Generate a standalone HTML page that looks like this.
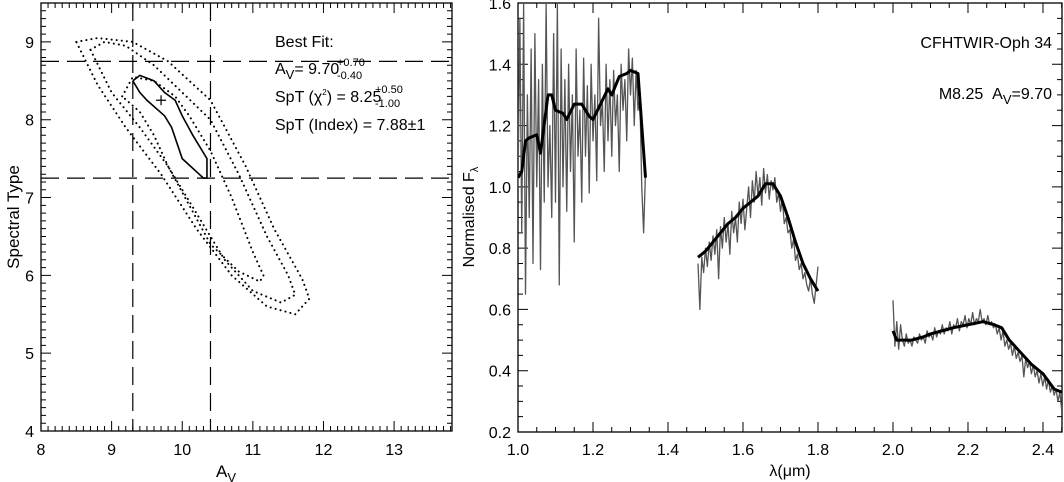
<!DOCTYPE html>
<html><head><meta charset="utf-8"><style>
html,body{margin:0;padding:0;background:#fff}
svg{display:block;font-family:"Liberation Sans",sans-serif}
</style></head><body>
<svg id="fig" width="1064" height="482" viewBox="0 0 1064 482">
<g id="left"></g>
<g id="right"></g>
</svg>
<script>
// ---- Left panel data ----
const avTicks=[8,9,10,11,12,13];
const sptTicks=[4,5,6,7,8,9];
const avBounds=[9.3,10.4];
const sptBounds=[7.25,8.75];
const bestFit=[9.7,8.25];
const solidAv=[9.3,9.4,9.6,9.75,9.9,10.0,10.15,10.35,10.35,10.3,10.0,9.85,9.75,9.5,9.4,9.3];
const solidSpt=[8.5,8.57,8.5,8.35,8.25,8.05,7.8,7.5,7.25,7.25,7.5,7.9,8.05,8.25,8.35,8.5];
const dot1Av=[9.15,9.3,9.6,9.9,10.1,10.4,10.7,11.0,11.15,11.1,10.8,10.4,10.1,9.8,9.6,9.4,9.15];
const dot1Spt=[8.3,8.55,8.5,8.3,8.05,7.6,7.0,6.3,6.0,5.92,6.05,6.4,6.9,7.4,7.8,8.1,8.3];
const dot2Av=[8.7,8.9,9.2,9.6,10.0,10.4,10.8,11.2,11.5,11.6,11.4,11.0,10.6,10.2,9.8,9.4,9.0,8.7];
const dot2Spt=[8.9,9.0,8.95,8.7,8.35,8.0,7.3,6.5,6.0,5.75,5.65,5.8,6.2,6.8,7.4,7.9,8.35,8.9];
const dot3Av=[8.5,8.8,9.3,9.8,10.4,10.9,11.3,11.7,11.8,11.6,11.2,10.7,10.2,9.7,9.2,8.8,8.5];
const dot3Spt=[9.0,9.05,9.0,8.75,8.25,7.4,6.6,5.95,5.7,5.5,5.6,6.0,6.6,7.3,7.9,8.45,9.0];
// ---- Right panel data ----
const lamTicks=[1.0,1.2,1.4,1.6,1.8,2.0,2.2,2.4];
const fluxTicks=[0.2,0.4,0.6,0.8,1.0,1.2,1.4,1.6];
const jRange=[1.0,1.34];
const jFlux=[1.0,1.55,0.85,1.6,0.65,1.3,0.9,1.45,0.75,1.5,1.0,1.35,0.73,1.4,0.95,1.6,1.0,1.2,0.9,1.5,0.95,1.6,0.68,1.45,1.0,1.35,0.92,1.4,1.05,1.3,0.82,1.45,1.1,1.25,0.95,1.42,1.1,1.33,0.98,1.4,1.15,1.3,1.02,1.55,1.2,1.28,1.05,1.4,1.15,1.35,1.1,1.38,1.2,1.3,1.05,1.4,1.25,1.35,1.15,1.45,1.3,1.42,1.2,1.38,1.25,1.3,1.0,0.85,1.05];
const hRange=[1.48,1.80];
const hFlux=[0.75,0.6,0.77,0.72,0.8,0.74,0.82,0.76,0.84,0.78,0.86,0.7,0.87,0.8,0.9,0.82,0.88,0.78,0.92,0.85,0.9,0.82,0.95,0.88,0.96,0.86,0.93,1.0,0.9,1.02,0.95,1.05,0.97,1.03,0.94,1.06,0.98,1.04,0.96,1.02,0.99,1.03,0.95,0.98,0.92,0.96,0.88,0.9,0.85,0.86,0.8,0.83,0.76,0.78,0.73,0.75,0.7,0.72,0.68,0.66,0.7,0.65,0.62,0.68,0.74];
const kRange=[2.0,2.45];
const kFlux=[0.63,0.48,0.56,0.47,0.55,0.5,0.48,0.52,0.49,0.5,0.48,0.51,0.5,0.49,0.52,0.5,0.51,0.49,0.53,0.51,0.52,0.5,0.54,0.51,0.53,0.52,0.55,0.52,0.54,0.53,0.56,0.52,0.55,0.54,0.57,0.53,0.56,0.55,0.58,0.54,0.57,0.55,0.59,0.55,0.57,0.56,0.6,0.56,0.57,0.55,0.58,0.55,0.56,0.54,0.55,0.52,0.54,0.5,0.53,0.48,0.5,0.47,0.49,0.45,0.48,0.44,0.46,0.43,0.45,0.38,0.44,0.41,0.43,0.39,0.42,0.38,0.4,0.36,0.39,0.35,0.38,0.34,0.37,0.33,0.35,0.32,0.34,0.3,0.33,0.27];
const modelLam=[[1.0,1.01,1.02,1.03,1.05,1.06,1.08,1.09,1.1,1.12,1.13,1.15,1.17,1.19,1.2,1.22,1.24,1.25,1.27,1.29,1.3,1.32,1.33,1.34],
 [1.48,1.5,1.52,1.54,1.56,1.58,1.6,1.62,1.64,1.66,1.68,1.7,1.72,1.74,1.76,1.78,1.8],
 [2.0,2.01,2.03,2.05,2.08,2.1,2.13,2.16,2.2,2.24,2.27,2.29,2.31,2.34,2.37,2.4,2.43,2.45]];
const modelFlux=[[1.03,1.05,1.15,1.16,1.17,1.11,1.3,1.3,1.25,1.24,1.22,1.27,1.27,1.23,1.22,1.27,1.32,1.3,1.36,1.37,1.38,1.37,1.2,1.03],
 [0.77,0.79,0.82,0.85,0.88,0.9,0.93,0.95,0.97,1.01,1.01,0.97,0.9,0.82,0.75,0.7,0.66],
 [0.53,0.5,0.5,0.5,0.51,0.52,0.53,0.54,0.55,0.56,0.55,0.54,0.5,0.46,0.42,0.39,0.34,0.33]];

const NS="http://www.w3.org/2000/svg";
function mk(parent,tag,attrs,text){const e=document.createElementNS(NS,tag);for(const k in attrs)e.setAttribute(k,attrs[k]);if(text!==undefined)e.textContent=text;parent.appendChild(e);return e;}

const L={x0:41,x1:452,y0:431,y1:3,xmin:8,xmax:13.82,ymin:4,ymax:9.5};
const lx=v=>L.x0+(v-L.xmin)/(L.xmax-L.xmin)*(L.x1-L.x0);
const ly=v=>L.y0-(v-L.ymin)/(L.ymax-L.ymin)*(L.y0-L.y1);
const R={x0:518,x1:1062,y0:432,y1:3,xmin:1.0,xmax:2.4507,ymin:0.2,ymax:1.6};
const rx=v=>R.x0+(v-R.xmin)/(R.xmax-R.xmin)*(R.x1-R.x0);
const ry=v=>R.y0-(v-R.ymin)/(R.ymax-R.ymin)*(R.y0-R.y1);

const defs=mk(document.getElementById('fig'),'defs',{});
const cp=mk(defs,'clipPath',{id:'lclip'});mk(cp,'rect',{x:L.x0,y:L.y1,width:L.x1-L.x0,height:L.y0-L.y1});
const cp2=mk(defs,'clipPath',{id:'rclip'});mk(cp2,'rect',{x:R.x0,y:R.y1,width:R.x1-R.x0,height:R.y0-R.y1});

function axes(g,S,fx,fy,xmin,xstep,ymin,ystep,xdec,ydec){
  const fr=mk(g,'rect',{x:S.x0,y:S.y1,width:S.x1-S.x0,height:S.y0-S.y1,fill:'none',stroke:'#000','stroke-width':1.3});
  
  let d='';
  for(let i=0;;i++){const v=xmin+i*xstep;if(v>S.xmax+1e-9)break;const X=fx(v);const maj=i%xdec===0;const len=maj?10:5;d+=`M${X},${S.y0}v${-len}M${X},${S.y1}v${len}`;}
  for(let i=0;;i++){const v=ymin+i*ystep;if(v>S.ymax+1e-9)break;const Y=fy(v);const maj=i%ydec===0;const len=maj?10:5;d+=`M${S.x0},${Y}h${len}M${S.x1},${Y}h${-len}`;}
  const t=mk(g,'path',{d:d,stroke:'#000','stroke-width':1,fill:'none'});
  
}

// ---- left panel ----
const lg=document.getElementById('left');
axes(lg,L,lx,ly,8,0.1,4,0.1,10,10);
avTicks.forEach(v=>{const t=mk(lg,'text',{x:lx(v),y:455,'text-anchor':'middle','font-size':16},String(v));});
sptTicks.forEach(v=>{const t=mk(lg,'text',{x:34,y:ly(v)+6,'text-anchor':'end','font-size':16},String(v));});
let t=mk(lg,'text',{x:226,y:477,'text-anchor':'middle','font-size':17},'A');
mk(t,'tspan',{'font-size':13,dy:5},'V');
t=mk(lg,'text',{transform:'translate(19,217) rotate(-90)','text-anchor':'middle','font-size':17},'Spectral Type');
const lc=mk(lg,'g',{'clip-path':'url(#lclip)'});
const dash={stroke:'#000','stroke-width':1.2,'stroke-dasharray':'18,8',fill:'none'};
avBounds.forEach(v=>{const l=mk(lc,'line',Object.assign({x1:lx(v),x2:lx(v),y1:L.y1,y2:L.y0},dash));});
sptBounds.forEach(v=>{const l=mk(lc,'line',Object.assign({x1:L.x0,x2:L.x1,y1:ly(v),y2:ly(v)},dash));});
function poly(g,xs,ys,fx,fy,attrs,name){const pts=xs.map((x,i)=>fx(x)+','+fy(ys[i])).join(' ');const p=mk(g,'polyline',Object.assign({points:pts,fill:'none'},attrs));return p;}
const dotA={stroke:'#000','stroke-width':2,'stroke-dasharray':'0.1,5','stroke-linecap':'round','stroke-linejoin':'round'};
poly(lc,dot1Av,dot1Spt,lx,ly,dotA,'contour-inner-dotted');
poly(lc,dot2Av,dot2Spt,lx,ly,dotA,'contour-middle-dotted');
poly(lc,dot3Av,dot3Spt,lx,ly,dotA,'contour-outer-dotted');
poly(lc,solidAv,solidSpt,lx,ly,{stroke:'#000','stroke-width':1.6},'contour-solid');
const bx=lx(bestFit[0]),by=ly(bestFit[1]);
const pl=mk(lc,'path',{d:`M${bx-5},${by}h10M${bx},${by-5}v10`,stroke:'#000','stroke-width':1.2});
const ann=mk(lg,'g',{'font-size':16});
mk(ann,'text',{x:275,y:47},'Best Fit:');
t=mk(ann,'text',{x:275,y:74},'A');mk(t,'tspan',{'font-size':13,dy:5},'V');mk(t,'tspan',{dy:-5},'= 9.70');
mk(ann,'text',{x:337,y:66,'font-size':11},'+0.70');mk(ann,'text',{x:337,y:79,'font-size':11},'-0.40');
t=mk(ann,'text',{x:275,y:102},'SpT (');mk(t,'tspan',{},'χ');mk(t,'tspan',{'font-size':8,dy:-7},'2');mk(t,'tspan',{dy:7},') = 8.25');
mk(ann,'text',{x:375,y:93,'font-size':11},'+0.50');mk(ann,'text',{x:375,y:107,'font-size':11},'-1.00');
mk(ann,'text',{x:275,y:130},'SpT (Index) = 7.88±1');

// ---- right panel ----
const rg=document.getElementById('right');
axes(rg,R,rx,ry,1.0,0.05,0.2,0.05,4,4);
lamTicks.forEach(v=>{const t=mk(rg,'text',{x:rx(v),y:455,'text-anchor':'middle','font-size':16},v.toFixed(1));});
fluxTicks.forEach(v=>{const t=mk(rg,'text',{x:511,y:ry(v)+6,'text-anchor':'end','font-size':16},v.toFixed(1));});
t=mk(rg,'text',{x:790,y:476,'text-anchor':'middle','font-size':16},'λ(μm)');
t=mk(rg,'text',{transform:'translate(474,217) rotate(-90)','text-anchor':'middle','font-size':16},'Normalised F');
mk(t,'tspan',{'font-size':11,dy:4},'λ');
const rc=mk(rg,'g',{'clip-path':'url(#rclip)'});
function spec(range,fl,name){const n=fl.length;const xs=fl.map((_,i)=>range[0]+i*(range[1]-range[0])/(n-1));poly(rc,xs,fl,rx,ry,{stroke:'#555','stroke-width':1.3,'stroke-linejoin':'round'},name);}
spec(jRange,jFlux,'observed-spectrum-j');
spec(hRange,hFlux,'observed-spectrum-h');
spec(kRange,kFlux,'observed-spectrum-k');
modelLam.forEach((xs,i)=>poly(rc,xs,modelFlux[i],rx,ry,{stroke:'#000','stroke-width':3,'stroke-linejoin':'round'},'model-spectrum-'+['j','h','k'][i]));
t=mk(rg,'text',{x:1052,y:48,'text-anchor':'end','font-size':16},'CFHTWIR-Oph 34');
t=mk(rg,'text',{x:1052,y:99,'text-anchor':'end','font-size':16},'M8.25\u00A0\u00A0A');
mk(t,'tspan',{'font-size':13,dy:5},'V');mk(t,'tspan',{dy:-5},'=9.70');
</script>
</body></html>
